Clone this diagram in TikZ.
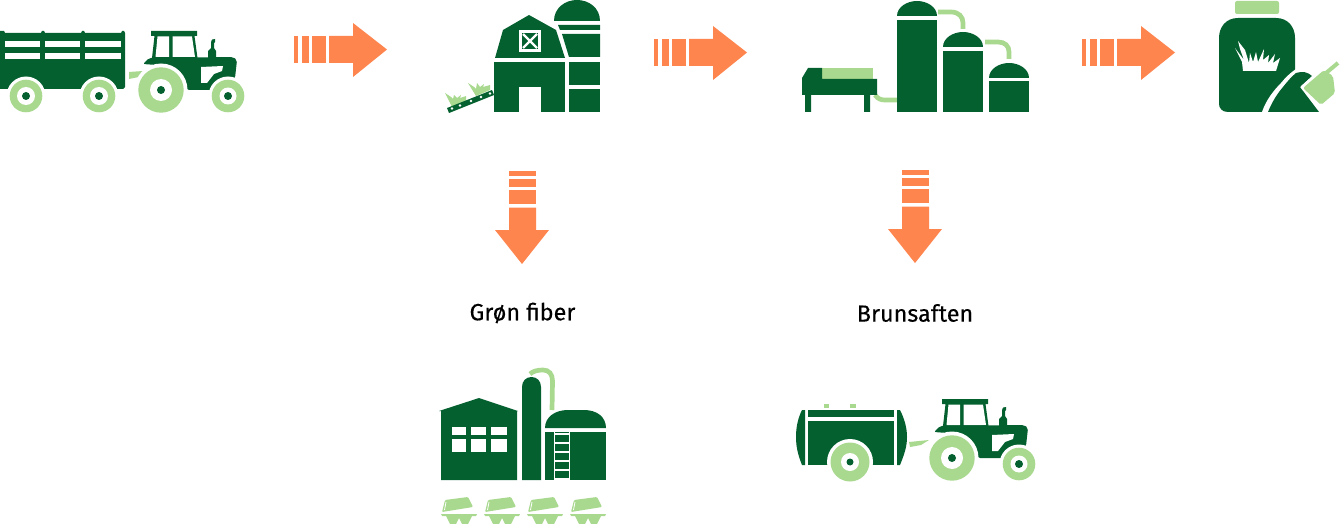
\documentclass[tikz,border=0pt]{standalone}
\usepackage{fontspec}
\setmainfont{Fira Sans}[FakeBold=0.25]
\definecolor{dk}{HTML}{04602F}
\definecolor{lt}{HTML}{A9D98F}
\definecolor{og}{HTML}{FF854F}
\tikzset{
  dkfill/.style={fill=dk,draw=none},
  ltfill/.style={fill=lt,draw=none},
  ogfill/.style={fill=og,draw=none},
  whfill/.style={fill=white,draw=none},
  ltpipe/.style={draw=lt,line width=4.7pt,fill=none},
  label text/.style={font=\fontsize{23.4}{28}\selectfont,text=black,inner sep=0pt}
}
\newcommand{\wheelat}[6]{%
  \fill[white] (#1,#2) circle[radius=#3];
  \fill[lt] (#1,#2) circle[radius=#4];
  \fill[white] (#1,#2) circle[radius=#5];
  \fill[dk] (#1,#2) circle[radius=#6];}
\newcommand{\drawtractor}{%
  % cab
  \path[dkfill] (151,31) -- (197,31) -- (197,36) -- (194.5,36) -- (197.5,58) -- (152,58) -- (154.5,36) -- (151,36) -- cycle;
  \path[whfill] (157.5,36.5) -- (169,36.5) -- (169,57) -- (155.5,57) -- cycle;
  \path[whfill] (172.5,36.5) -- (192,36.5) -- (195,57) -- (172.5,57) -- cycle;
  % exhaust
  \path[dkfill] (208,58) -- (208,51) -- (211,48) -- (211,43) .. controls (211,40) and (213,38) .. (215,39) -- (215,42) -- (214,43) -- (214,48) -- (216,51) -- (216,58) -- cycle;
  % hood and body
  \path[dkfill,rounded corners=2pt] (143,64) -- (149,58) -- (233,57) -- (237,60) -- (235,78) -- (226,90) -- (187,90) -- (170,66) -- cycle;
  \path[whfill] (201,67) -- (223,66) -- (222,71) -- (214,74) -- (207,83) -- (201,83) -- cycle;
  \wheelat{228}{96}{19.5}{16.3}{8.5}{4}
  \wheelat{161}{90}{26.5}{22.7}{11}{4}
}
\newcommand{\harrow}{%
  \path[ogfill] (294,36) rectangle (298,63);
  \path[ogfill] (302,36) rectangle (309,63);
  \path[ogfill] (312,36) rectangle (326,63);
  \path[ogfill] (329,36) -- (353,36) -- (353,23) -- (387,49.5) -- (353,77) -- (353,63) -- (329,63) -- cycle;
}
\newcommand{\varrow}{%
  \path[ogfill] (509,171) rectangle (536,175.5);
  \path[ogfill] (509,179) rectangle (536,186.5);
  \path[ogfill] (509,190) rectangle (536,204);
  \path[ogfill] (509,207.5) -- (536,207.5) -- (536,230) -- (549,230) -- (522,264) -- (495,230) -- (509,230) -- cycle;
}
\newcommand{\tray}{%
  \path[ltfill,rounded corners=1pt] (445,500) -- (468,497) -- (473,507) -- (442,512) -- cycle;
  \draw[white,line width=0.8pt] (446,502) -- (444.5,510);
  \path[ltfill] (441,514) -- (477,514) -- (476,516) -- (472,516) -- (468,524) -- (462,524) -- (459,518) -- (456,524) -- (450,524) -- (446,516) -- (442,516) -- cycle;
}
\begin{document}
\begin{tikzpicture}[x=1pt,y=-1pt]
\useasboundingbox (0,0) rectangle (1340,524);
\fill[white] (0,0) rectangle (1340,524);

% ---- first trailer and tractor
\path[dkfill] (0,31) -- (4,31) -- (5,33) -- (41,33) -- (42,31) -- (44,31) -- (45,33) -- (81,33) -- (82,31) -- (84,31) -- (85,33) -- (121,33) -- (122,31) -- (124,31) -- (125,33) -- (125,87) -- (123,89) -- (0,89) -- cycle;
\foreach \xa/\xb in {5/40,45/80,85/121}{
  \path[whfill] (\xa,41) rectangle (\xb,47);
  \path[whfill] (\xa,53.5) rectangle (\xb,59.5);
}
\wheelat{26}{96}{19.5}{16.3}{9}{4}
\wheelat{99}{96}{19.5}{16.3}{9}{4}
\path[ltfill] (129,72) -- (143,71) -- (139,77) -- (129,79) -- cycle;
\drawtractor

% ---- horizontal arrows
\harrow
\begin{scope}[shift={(360,3)}]\harrow\end{scope}
\begin{scope}[shift={(788,3)}]\harrow\end{scope}

% ---- barn and silo
\path[dkfill] (495,58) -- (503,30) -- (529,15) -- (556,30) -- (565,58) -- cycle;
\path[dkfill] (494,62) rectangle (565,112);
\path[whfill] (519,87) rectangle (541,112);
\path[whfill] (519,30) rectangle (541,52);
\path[dkfill] (522,33) rectangle (538,49);
\draw[white,line width=2.4pt] (523,34) -- (537,48) (537,34) -- (523,48);
\path[dkfill] (554,21) .. controls (554,8) and (565,0) .. (577,0) .. controls (589,0) and (600,8) .. (600,21) -- cycle;
\path[dkfill] (558,25) -- (600,25) -- (600,30) -- (560,30) -- cycle;
\path[dkfill] (562,34) -- (600,34) -- (600,57) -- (569,57) -- cycle;
\path[dkfill] (569,62) rectangle (600,85);
\path[dkfill] (569,89) rectangle (600,112);
\path[ltfill] (445,93) -- (451,97) -- (453,99) -- (454,95) -- (457,98) -- (461,95) -- (460,98) -- (466,96) -- (466,101) -- (452,107) -- cycle;
\path[ltfill] (468,83) -- (474,87) -- (476,89) -- (477,83) -- (480,87) -- (484,84) -- (483,87) -- (490,85) -- (490,90) -- (476,96) -- cycle;
\path[dkfill] (447,108) -- (492,90) -- (494,95) -- (449,113) -- cycle;
\foreach \cx/\cy in {452/108.5,460/105.5,471/101,481/97,490/93.5}{
  \fill[white] (\cx,\cy) circle[radius=1.4];
}

% ---- digester
\path[ltpipe] (875,95) .. controls (878,99) and (881,100) .. (885,100) -- (897,100);
\path[ltpipe] (938,12) -- (951,12) .. controls (959,12) and (963,17) .. (963,23) -- (963,29);
\path[ltpipe] (985,42) -- (998,42) .. controls (1005,42) and (1009,46) .. (1009,52) -- (1009,59);
\path[ltfill] (822,68) rectangle (873,79);
\path[dkfill] (802,78) -- (808,68) -- (822,68) -- (822,79) -- (877,79) -- (877,95) -- (870,95) -- (870,112) -- (864,112) -- (864,95) -- (811,95) -- (811,112) -- (805,112) -- (805,95) -- (802,95) -- cycle;
\path[dkfill] (897,16) .. controls (897,7) and (907,1) .. (917,1) .. controls (927,1) and (937,7) .. (937,16) -- cycle;
\path[dkfill] (897,20) rectangle (937,112);
\path[dkfill] (943,47) .. controls (943,38) and (953,32) .. (963,32) .. controls (973,32) and (983,38) .. (983,47) -- cycle;
\path[dkfill] (943,51) rectangle (983,112);
\path[dkfill] (989,78) .. controls (989,69) and (999,63) .. (1009,63) .. controls (1019,63) and (1029,69) .. (1029,78) -- cycle;
\path[dkfill] (989,81) rectangle (1029,112);

% ---- bag and shovel
\path[ltfill,rounded corners=2pt] (1235,1) rectangle (1279,14);
\path[dkfill] (1238,18) -- (1276,18) .. controls (1288,18) and (1295,27) .. (1295,38) -- (1295,80) -- (1290,112) -- (1228,112) .. controls (1222,112) and (1219,108) .. (1219,104) -- (1219,38) .. controls (1219,27) and (1226,18) .. (1238,18) -- cycle;
\path[whfill] (1262,112) .. controls (1266,100) and (1274,90) .. (1281,83) .. controls (1285,78) and (1290,73) .. (1296,69) -- (1320,64) -- (1330,112) -- cycle;
\path[dkfill] (1268,112) .. controls (1272,102) and (1277,94) .. (1283,87) .. controls (1287,82) and (1291,77) .. (1296,73) .. controls (1302,71) and (1308,72) .. (1312,76) -- (1300,87) -- (1319,112) -- cycle;
\path[whfill] (1243,71) -- (1242,62) -- (1235,48) -- (1244,60) -- (1240,49) -- (1238,41) -- (1245,50) -- (1249,63) -- (1250,53) -- (1253,62) -- (1256,52) -- (1258,62) -- (1264,49) -- (1263,60) -- (1269,55) -- (1268,63) -- (1275,54) -- (1273,63) -- (1280,58) -- (1276,71) -- cycle;
\fill[white,rounded corners=2pt] (1300,87) -- (1323,67) -- (1336,76) -- (1338,96) -- (1321,108) -- cycle;
\path[ltfill,rounded corners=2pt] (1303,88) -- (1324,70) -- (1333,76) -- (1335,93) -- (1321,105) -- cycle;
\draw[lt,line width=4pt] (1326,73) -- (1338,63);

% ---- down arrows
\varrow
\begin{scope}[shift={(393,-1)}]\varrow\end{scope}

% ---- labels
\node[label text] (gron) at (522.5,313) {Grøn fiber};
\node[label text] (brun) at (915,313) {Brunsaften};

% ---- biogas plant
\path[ltpipe] (530,374) .. controls (533,371) and (538,370) .. (543,370) .. controls (549,370) and (552.5,374) .. (552.5,381) -- (552,410);
\path[dkfill] (439,411) -- (479,398) -- (518,411) -- (517,411) -- (517,480) -- (441,480) -- (441,411) -- cycle;
\foreach \xa/\xb in {452/466,471/486,491/507}{
  \path[whfill] (\xa,427) rectangle (\xb,435);
  \path[whfill] (\xa,439) rectangle (\xb,452);
}
\path[whfill] (520,376) rectangle (543,380);
\path[dkfill] (522,480) -- (522,387) .. controls (522,381) and (526,377) .. (531.5,377) .. controls (537,377) and (541,381) .. (541,387) -- (541,480) -- cycle;
\path[dkfill] (545,428) .. controls (545,417) and (555,410) .. (568,410) -- (584,410) .. controls (597,410) and (606,417) .. (606,428) -- cycle;
\path[dkfill] (545,432) rectangle (606,480);
\draw[white,line width=1.3pt] (554.5,432) -- (554.5,480) (569.5,432) -- (569.5,480);
\foreach \ry in {434,443,452,461,470,479}{
  \draw[white,line width=1.3pt] (554.5,\ry) -- (569.5,\ry);
}
\tray
\begin{scope}[shift={(43,0)}]\tray\end{scope}
\begin{scope}[shift={(86,0)}]\tray\end{scope}
\begin{scope}[shift={(129,0)}]\tray\end{scope}

% ---- tank and tractor
\path[ltfill] (824,404) rectangle (829,408);
\path[ltfill] (850,404) rectangle (856,408);
\path[dkfill] (805,410) -- (805,465) -- (802,465) .. controls (798,455) and (796,447) .. (796,437) .. controls (796,427) and (798,418) .. (802,410) -- cycle;
\path[dkfill] (808,410) rectangle (894,417);
\path[dkfill] (808,421) rectangle (894,465);
\path[dkfill] (897,410) -- (900,410) .. controls (904,418) and (907,427) .. (907,437) .. controls (907,447) and (904,455) .. (900,465) -- (897,465) -- cycle;
\wheelat{850}{462}{23}{19.5}{9}{3.5}
\path[ltfill] (909,442) -- (929,440) -- (921,445) -- (910,447) -- cycle;
\begin{scope}[shift={(791,368)}]\drawtractor\end{scope}
\end{tikzpicture}
\end{document}
